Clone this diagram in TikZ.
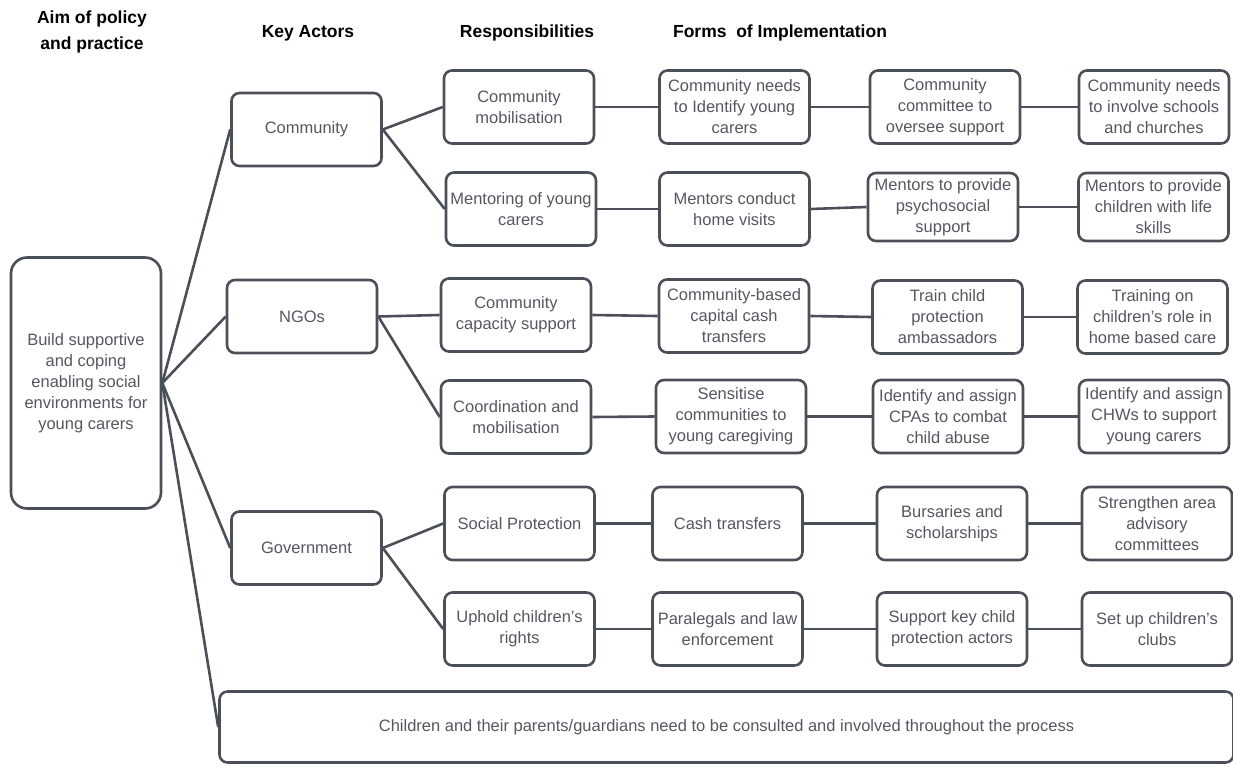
\documentclass[tikz,border=0pt]{standalone}
\usepackage{fontspec}
\setmainfont{Liberation Sans}
\definecolor{ln}{HTML}{4B5058}
\definecolor{tx}{HTML}{53585F}
\begin{document}
\begin{tikzpicture}[x=1pt,y=-1pt,
  box/.style={draw=ln, line width=2.6pt, rounded corners=8pt, align=center, text=tx,
    inner sep=1pt, minimum width=150pt, minimum height=73pt,
    font=\fontsize{16.5}{21}\selectfont},
  hdr/.style={align=center, text=black, font=\fontsize{17.5}{26}\selectfont\bfseries},
  conn/.style={draw=ln, line width=2.6pt}]
\useasboundingbox (0,0) rectangle (1233,767);
% headers
\node[hdr] (h1) at (92,32) {Aim of policy\\and practice};
\node[hdr] (h2) at (308,33) {Key Actors};
\node[hdr] (h3) at (527,33) {Responsibilities};
\node[hdr] (h4) at (780,33) {Forms \ of Implementation};
% aim
\node[box, rounded corners=16pt, minimum height=251pt] (aim) at (86,383) {Build supportive\\and coping\\enabling social\\environments for\\young carers};
% key actors
\node[box] (k1) at (306.5,129.5) {Community};
\node[box] (k2) at (302,316.5) {NGOs};
\node[box] (k3) at (306.5,548) {Government};
% responsibilities
\node[box] (r1) at (519,107) {Community\\mobilisation};
\node[box] (r2) at (521,209) {Mentoring of young\\carers};
\node[box] (r3) at (516,315) {Community\\capacity support};
\node[box] (r4) at (516,417) {Coordination and\\mobilisation};
\node[box] (r5) at (519.5,523.5) {Social Protection};
\node[box] (r6) at (519.5,629) {Uphold children’s\\rights};
% forms 1
\node[box] (a1) at (734.5,107) {Community needs\\to Identify young\\carers};
\node[box] (a2) at (734.5,209) {Mentors conduct\\home visits};
\node[box] (a3) at (734,316) {Community-based\\capital cash\\transfers};
\node[box] (a4) at (731,416.5) {Sensitise\\communities to\\young caregiving};
\node[box] (a5) at (727.5,523.5) {Cash transfers};
\node[box] (a6) at (727.5,629) {Paralegals and law\\enforcement};
% forms 2
\node[box] (b1) at (945,107) {Community\\committee to\\oversee support};
\node[box, minimum height=68pt] (b2) at (943,207) {Mentors to provide\\psychosocial\\support};
\node[box] (b3) at (947.5,317) {Train child\\protection\\ambassadors};
\node[box] (b4) at (948,416.5) {Identify and assign\\CPAs to combat\\child abuse};
\node[box] (b5) at (952,523.5) {Bursaries and\\scholarships};
\node[box] (b6) at (952,629) {Support key child\\protection actors};
% forms 3
\node[box] (c1) at (1154,107) {Community needs\\to involve schools\\and churches};
\node[box, minimum height=68pt] (c2) at (1153.5,207) {Mentors to provide\\children with life\\skills};
\node[box] (c3) at (1152.5,317) {Training on\\children’s role in\\home based care};
\node[box] (c4) at (1154,416.5) {Identify and assign\\CHWs to support\\young carers};
\node[box] (c5) at (1157,523.5) {Strengthen area\\advisory\\committees};
\node[box] (c6) at (1157,629) {Set up children’s\\clubs};
% bottom
\node[box, minimum width=1014pt, minimum height=71pt] (bot) at (726.5,727) {Children and their parents/guardians need to be consulted and involved throughout the process};
% connectors
\draw[conn] (aim.east) -- (k1.west);
\draw[conn] (aim.east) -- (k2.west);
\draw[conn] (aim.east) -- (k3.west);
\draw[conn] (aim.east) -- (bot.west);
\draw[conn] (k1.east) -- (r1.west);
\draw[conn] (k1.east) -- (r2.west);
\draw[conn] (k2.east) -- (r3.west);
\draw[conn] (k2.east) -- (r4.west);
\draw[conn] (k3.east) -- (r5.west);
\draw[conn] (k3.east) -- (r6.west);
\foreach \r/\a/\b/\c in {r1/a1/b1/c1, r2/a2/b2/c2, r3/a3/b3/c3, r4/a4/b4/c4, r5/a5/b5/c5, r6/a6/b6/c6}{
  \draw[conn] (\r.east) -- (\a.west);
  \draw[conn] (\a.east) -- (\b.west);
  \draw[conn] (\b.east) -- (\c.west);
}
\end{tikzpicture}
\end{document}
